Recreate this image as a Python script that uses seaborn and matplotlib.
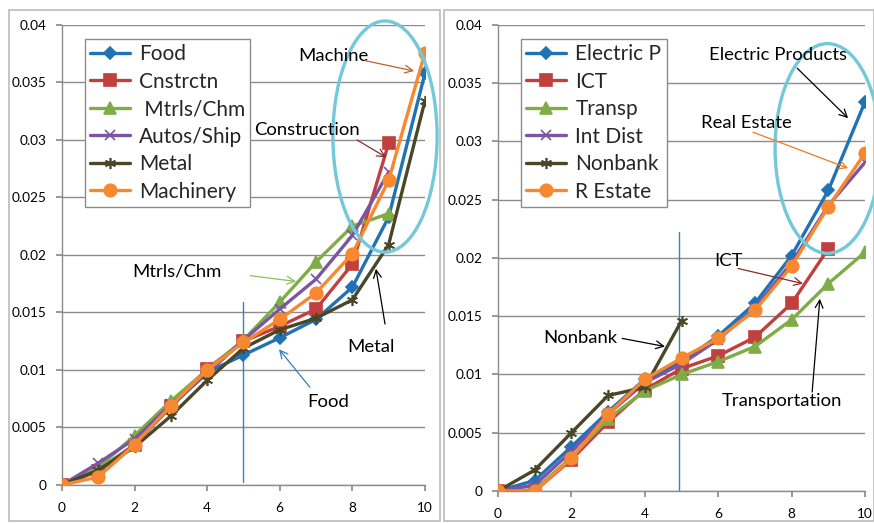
import numpy as np
import pandas as pd
import matplotlib
matplotlib.use("Agg")
import matplotlib.pyplot as plt
import seaborn as sns
from matplotlib.patches import Ellipse, Rectangle

# ---------------------------------------------------------
# data
# ---------------------------------------------------------
x_vals = [0, 1, 2, 3, 4, 5, 6, 7, 8, 9, 10]
nan = np.nan

food = [0, 0.0013, 0.0035, 0.0068, 0.0098, 0.0113, 0.0128, 0.0144, 0.0172, 0.0233, 0.0358]
cnstrctn = [0, 0.0012, 0.0035, 0.0069, 0.0101, 0.0125, 0.0138, 0.0153, 0.0192, 0.0297, nan]
mtrls_chm = [0, 0.0015, 0.0043, 0.0073, 0.0100, 0.0126, 0.0159, 0.0194, 0.0225, 0.0236, nan]
autos_ship = [0, 0.0019, 0.0040, 0.0070, 0.0097, 0.0126, 0.0153, 0.0179, 0.0217, 0.0272, nan]
metal = [0, 0.0013, 0.0033, 0.0060, 0.0091, 0.0119, 0.0135, 0.0145, 0.0161, 0.0209, 0.0334]
machinery = [0, 0.0007, 0.0035, 0.0069, 0.0100, 0.0124, 0.0144, 0.0167, 0.0201, 0.0265, 0.0376]

electric_p = [0, 0.0009, 0.0038, 0.0068, 0.0096, 0.0111, 0.0133, 0.0161, 0.0202, 0.0258, 0.0334]
ict = [0, 0.0000, 0.0027, 0.0059, 0.0087, 0.0105, 0.0116, 0.0132, 0.0161, 0.0208, nan]
transp = [0, 0.0001, 0.0029, 0.0062, 0.0086, 0.0100, 0.0111, 0.0124, 0.0147, 0.0178, 0.0205]
int_dist = [0, 0.0005, 0.0034, 0.0066, 0.0093, 0.0109, 0.0130, 0.0157, 0.0196, 0.0245, 0.0282]
nonbank = [0, 0.0018, 0.0050, 0.0082, 0.0089, 0.0146, nan, nan, nan, nan, nan]
r_estate = [0, 0.0000, 0.0028, 0.0066, 0.0096, 0.0114, 0.0131, 0.0155, 0.0193, 0.0244, 0.0290]

left_labels = ["Food", "Cnstrctn", " Mtrls/Chm", "Autos/Ship", "Metal", "Machinery"]
left_series = [food, cnstrctn, mtrls_chm, autos_ship, metal, machinery]
right_labels = ["Electric P", "ICT", "Transp", "Int Dist", "Nonbank", "R Estate"]
right_series = [electric_p, ict, transp, int_dist, nonbank, r_estate]

y_ticks = [0, 0.005, 0.01, 0.015, 0.02, 0.025, 0.03, 0.035, 0.04]
y_ticklabels = ["0", "0.005", "0.01", "0.015", "0.02", "0.025", "0.03", "0.035", "0.04"]
x_ticks = [0, 2, 4, 6, 8, 10]

# vertical reference lines
left_vline = (5.0, 0.0003, 0.0159)
right_vline = (4.93, 0.0001, 0.0222)

# ellipses: (x centre, y centre, width, height)
left_ellipse = (8.9, 0.0303, 2.87, 0.0201)
right_ellipse = (8.98, 0.0294, 2.86, 0.0180)

# annotations: text, text position, arrow tail, arrow head, colour
left_notes = [
    ("Machine", (7.47, 0.0373), (8.35, 0.0369), (9.70, 0.0360), "#C0602A"),
    ("Construction", (6.75, 0.0309), (8.13, 0.0300), (8.93, 0.0285), "#8B2A2A"),
    ("Mtrls/Chm", (3.17, 0.0186), (5.18, 0.0182), (6.45, 0.0177), "#8DC05A"),
    ("Metal", (8.51, 0.0120), (8.90, 0.0140), (8.65, 0.0188), "black"),
    ("Food", (7.33, 0.0072), (6.83, 0.0085), (5.98, 0.0118), "#2F7DC0"),
]
right_notes = [
    ("Electric Products", (7.63, 0.0374), (8.15, 0.0363), (9.54, 0.0320), "black"),
    ("Real Estate", (6.76, 0.0316), (6.95, 0.0308), (9.54, 0.0277), "#F07A20"),
    ("ICT", (6.27, 0.0197), (6.54, 0.0191), (8.31, 0.0178), "#8B2A2A"),
    ("Nonbank", (2.23, 0.0131), (3.38, 0.0131), (4.55, 0.0124), "black"),
    ("Transportation", (7.74, 0.0077), (8.56, 0.0085), (8.77, 0.0165), "black"),
]

colors = ["#1F72B4", "#C0403D", "#7EAD45", "#7B55A3", "#4A4628", "#F7882F"]
markers = ["D", "s", "^", "x", (6, 2, 0), "o"]
msizes = [6, 8, 8, 7, 8, 9]

sns.set_theme(style="white")
plt.rcParams['font.family'] = ['Lato', 'DejaVu Sans']

fig = plt.figure(figsize=(8.74, 5.23), dpi=100)
ax_l = fig.add_axes([0.0709, 0.0727, 0.4153, 0.8795])
ax_r = fig.add_axes([0.5698, 0.0612, 0.4199, 0.891])

# panel frames
for (x0, y0, w, h) in [(9, 2, 431, 511), (444, 2, 430, 511)]:
    fig.patches.append(Rectangle((x0 / 874, y0 / 523), w / 874, h / 523,
                                 transform=fig.transFigure, fill=False,
                                 edgecolor="#BBBBBB", lw=1.2))


def draw_panel(ax, labels, series, vline, ell, notes):
    for i, (lab, vals) in enumerate(zip(labels, series)):
        df = pd.DataFrame({"x": x_vals, "y": vals}).dropna()
        sns.lineplot(data=df, x="x", y="y", ax=ax, color=colors[i], lw=2.4,
                     marker=markers[i], markersize=msizes[i],
                     markeredgecolor=colors[i], markeredgewidth=1.2,
                     label=lab, zorder=3 + i)
    ax.set_xlim(0, 10)
    ax.set_ylim(0, 0.04)
    ax.set_xticks(x_ticks)
    ax.set_yticks(y_ticks, labels=y_ticklabels)
    ax.set_xlabel("")
    ax.set_ylabel("")
    ax.yaxis.grid(True, color="#8C8C8C", lw=1.0)
    ax.xaxis.grid(False)
    ax.set_axisbelow(True)
    for s in ["top", "right"]:
        ax.spines[s].set_visible(False)
    for s in ["left", "bottom"]:
        ax.spines[s].set_color("#8C8C8C")
        ax.spines[s].set_linewidth(1.0)
    ax.tick_params(axis="both", which="major", labelsize=9.8, length=4,
                   color="#8C8C8C", direction="out", left=True, bottom=True,
                   labelcolor="black")
    ax.tick_params(axis="y", pad=7)
    ax.tick_params(axis="x", pad=8)
    ax.patch.set_alpha(0)

    ax.plot([vline[0], vline[0]], [vline[1], vline[2]], color="#2E86C8", lw=1.0, zorder=2)

    e = Ellipse((ell[0], ell[1]), ell[2], ell[3], fill=False, edgecolor="#73C8DA",
                lw=2.4, clip_on=False, zorder=10)
    ax.add_patch(e)

    for text, tpos, tail, head, col in notes:
        ax.text(tpos[0], tpos[1], text, ha="center", va="center", fontsize=13.3,
                color="black", zorder=12)
        ax.annotate("", xy=head, xytext=tail,
                    arrowprops=dict(arrowstyle="->", color=col, lw=0.9,
                                    mutation_scale=14, shrinkA=0, shrinkB=0),
                    zorder=12, annotation_clip=False)

    leg = ax.legend(loc="upper left", bbox_to_anchor=(0.063, 0.97), fontsize=15,
                    frameon=True, fancybox=False, framealpha=1, edgecolor="#8C8C8C",
                    handlelength=1.9, handletextpad=0.45, labelspacing=0.36,
                    borderpad=0.25, borderaxespad=0)
    leg.get_frame().set_linewidth(1.0)
    leg.set_zorder(20)


draw_panel(ax_l, left_labels, left_series, left_vline, left_ellipse, left_notes)
draw_panel(ax_r, right_labels, right_series, right_vline, right_ellipse, right_notes)

fig.savefig("out.png", dpi=100)
